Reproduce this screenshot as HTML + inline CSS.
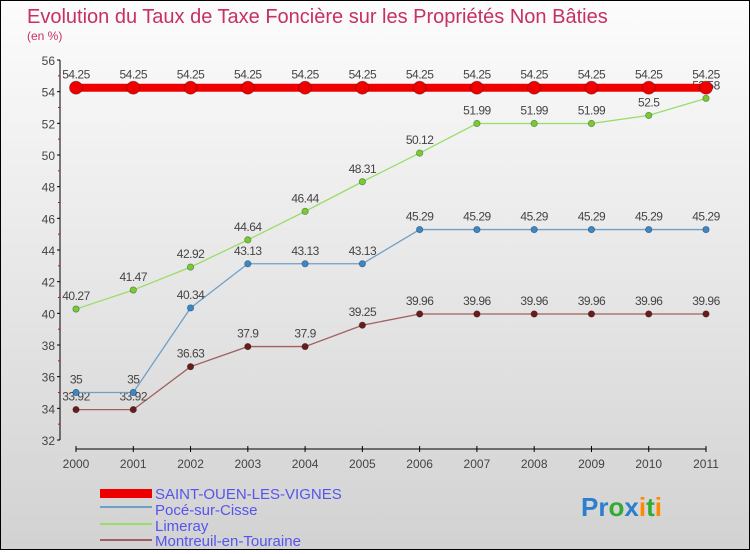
<!DOCTYPE html>
<html><head><meta charset="utf-8"><style>
html,body{margin:0;padding:0}
body{width:750px;height:550px;overflow:hidden;font-family:"Liberation Sans","DejaVu Sans",sans-serif}
#wrap{position:relative;width:748px;height:548px;border:1px solid #000;background:linear-gradient(#fcfcfc,#d2d2d2)}
</style></head><body>
<div id="wrap">
<svg id="svg" width="748" height="548" xmlns="http://www.w3.org/2000/svg">
<text x="26" y="22" font-size="20" fill="#c8305f">Evolution du Taux de Taxe Foncière sur les Propriétés Non Bâties</text>
<text x="26" y="39" font-size="12" fill="#c8305f">(en %)</text>
<g id="axes"></g><g id="series"></g>
<g>
<rect x="99" y="488" width="52" height="9" fill="#e00"/>
<text x="154" y="498" font-size="15" fill="#5555ee">SAINT-OUEN-LES-VIGNES</text>
<line x1="99" y1="506" x2="151" y2="506" stroke="#6fa0c8" stroke-width="2"/>
<text x="154" y="514" font-size="15" fill="#5555ee">Pocé-sur-Cisse</text>
<line x1="99" y1="523" x2="151" y2="523" stroke="#99dd66" stroke-width="2"/>
<text x="154" y="530" font-size="15" fill="#5555ee">Limeray</text>
<line x1="99" y1="539" x2="151" y2="539" stroke="#a06060" stroke-width="2"/>
<text x="154" y="545" font-size="15" fill="#5555ee">Montreuil-en-Touraine</text>
</g>
<text x="580" y="515" font-size="26" font-weight="bold"><tspan fill="#2a7fd0">Pr</tspan><tspan fill="#3a3">o</tspan><tspan fill="#2a7fd0">x</tspan><tspan fill="#f80">i</tspan><tspan fill="#3a3">t</tspan><tspan fill="#f80">i</tspan></text>
</svg></div>
<script>
const years=[2000,2001,2002,2003,2004,2005,2006,2007,2008,2009,2010,2011];
const saintOuen=[54.25,54.25,54.25,54.25,54.25,54.25,54.25,54.25,54.25,54.25,54.25,54.25];
const poce=[35,35,40.34,43.13,43.13,43.13,45.29,45.29,45.29,45.29,45.29,45.29];
const limeray=[40.27,41.47,42.92,44.64,46.44,48.31,50.12,51.99,51.99,51.99,52.5,53.58];
const montreuil=[33.92,33.92,36.63,37.9,37.9,39.25,39.96,39.96,39.96,39.96,39.96,39.96];
const yTicks=[32,34,36,38,40,42,44,46,48,50,52,54,56];
const NS="http://www.w3.org/2000/svg";
function X(i){return 75+i*(705-75)/(years.length-1);}
function Y(v){return 439-(v-32)*(439-59)/(56-32);}
function mk(t,a,p){const e=document.createElementNS(NS,t);for(const k in a)e.setAttribute(k,a[k]);p.appendChild(e);return e;}
const ax=document.getElementById('axes');
const ya=mk('line',{x1:59,y1:Y(56),x2:59,y2:Y(32),stroke:'#000','stroke-width':1},ax);


yTicks.forEach(v=>{
  mk('line',{x1:56,y1:Y(v),x2:59,y2:Y(v),stroke:'#000'},ax);
  if(v<56) mk('line',{x1:57,y1:Y(v+1),x2:59,y2:Y(v+1),stroke:'#e00'},ax);
  const t=mk('text',{x:54,y:Y(v)+5,'font-size':12,fill:'#444','text-anchor':'end'},ax);t.textContent=v;
  
  
});
const xa=mk('line',{x1:X(0),y1:448,x2:X(11),y2:448,stroke:'#000'},ax);


years.forEach((y,i)=>{
  mk('line',{x1:X(i),y1:445,x2:X(i),y2:451,stroke:'#000'},ax);
  const t=mk('text',{x:X(i),y:467,'font-size':12,fill:'#444','text-anchor':'middle'},ax);t.textContent=y;
  
  
});
const sg=document.getElementById('series');
function series(data,color,dot,lw,r,name,fmt){
  const g=mk('g',{},sg);
  
  
  mk('polyline',{points:data.map((v,i)=>X(i)+','+Y(v)).join(' '),fill:'none',stroke:color,'stroke-width':lw},g);
  data.forEach((v,i)=>{
    const c=mk('circle',{cx:X(i),cy:Y(v),r:r,fill:dot,stroke:'rgba(0,0,0,0.35)','stroke-width':0.8},g);
    
    
    const t=mk('text',{x:X(i),y:Y(v)-9,'font-size':12,fill:'#444','text-anchor':'middle','letter-spacing':'-0.5'},g);
    t.textContent=String(v);
    
    
  });
}
series(montreuil,'#a06060','#6a1c1c',1.3,3.2,'series-montreuil');
series(limeray,'#99dd66','#77cc33',1.3,3.2,'series-limeray');
series(poce,'#6fa0c8','#3a88c8',1.3,3.2,'series-poce');
series(saintOuen,'#ee0000','#ee0000',8,6.5,'series-saint-ouen');
</script>
</body></html>
